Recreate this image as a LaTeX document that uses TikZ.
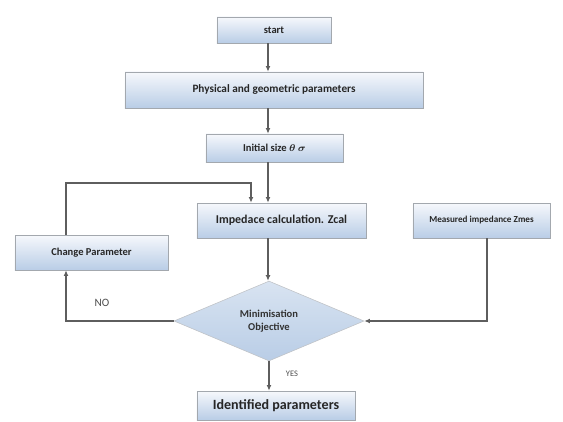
\documentclass[tikz,border=0pt]{standalone}
\usepackage{fontspec}
\usepackage{amsmath}
\setmainfont{Carlito}
\usetikzlibrary{shapes.geometric,shadows,arrows.meta}
\definecolor{boxtop}{HTML}{F6F8FC}
\definecolor{boxbot}{HTML}{B9CDE6}
\definecolor{boxline}{HTML}{A3A8AE}
\definecolor{linegray}{HTML}{5E5E5E}
\tikzset{
	box/.style={draw=boxline,top color=boxtop,bottom color=boxbot,
		inner sep=0pt,font=\fontsize{7.5}{9}\selectfont\bfseries,text=black!85,
		drop shadow={opacity=0.35,shadow xshift=0.6pt,shadow yshift=-0.8pt}},
	decision/.style={diamond,draw=boxline!70,top color=boxbot!55,bottom color=boxbot,
		inner sep=0pt,align=center,font=\fontsize{7.5}{9}\selectfont\bfseries,text=black!80},
	arr/.style={draw=linegray,line width=0.8pt,-{Latex[length=4pt,width=3.5pt]}},
	lbl/.style={text=black!70,inner sep=0pt}
}
\begin{document}
\begin{tikzpicture}[x=0.025cm,y=-0.025cm]
\useasboundingbox (0,0) rectangle (563,421);
%boxes
\node[box,minimum width=2.85cm,minimum height=0.65cm] (start) at (274,30) {start};
\node[box,minimum width=7.45cm,minimum height=0.9cm,font=\fontsize{8}{10}\selectfont\bfseries] (phys) at (274,90) {Physical and geometric parameters};
\node[box,minimum width=3.425cm,minimum height=0.7cm] (init) at (274.5,148) {Initial size $\boldsymbol{\theta}$ $\boldsymbol{\sigma}$};
\node[box,minimum width=4.225cm,minimum height=0.875cm,font=\fontsize{8.5}{10}\selectfont\bfseries] (imp) at (281.5,220.5) {Impedace calculation. Zcal};
\node[box,minimum width=3.425cm,minimum height=0.875cm,font=\fontsize{6.5}{8}\selectfont\bfseries] (meas) at (481.5,220.5) {Measured impedance Zmes};
\node[box,minimum width=3.825cm,minimum height=0.875cm] (change) at (91.5,252.5) {Change Parameter};
\node[decision,minimum width=4.75cm,minimum height=1.9cm] (obj) at (269,321) {Minimisation\\Objective};
\node[box,minimum width=3.95cm,minimum height=0.725cm,font=\fontsize{10}{12}\selectfont\bfseries] (ident) at (276,405.5) {Identified parameters};
%labels
\node[lbl,font=\fontsize{8}{9}\selectfont] (no) at (102,303) {NO};
\node[lbl,font=\fontsize{6}{7}\selectfont] (yes) at (292,374) {YES};
%arrows
\coordinate (axis) at (268,0);
\draw[arr] (axis |- start.south) -- (axis |- phys.north);
\draw[arr] (axis |- phys.south) -- (axis |- init.north);
\draw[arr] (axis |- init.south) -- (axis |- imp.north);
\draw[arr] (axis |- imp.south) -- (axis |- obj.north);
\draw[arr] (obj.south) -- (obj.south |- ident.north);
\draw[arr] (66,0 |- change.north) |- (251,183) -- (251,0 |- imp.north);
\draw[arr] (obj.west) -| (66,0 |- change.south);
\draw[arr] (487,0 |- meas.south) |- (obj.east);
\end{tikzpicture}
\end{document}
